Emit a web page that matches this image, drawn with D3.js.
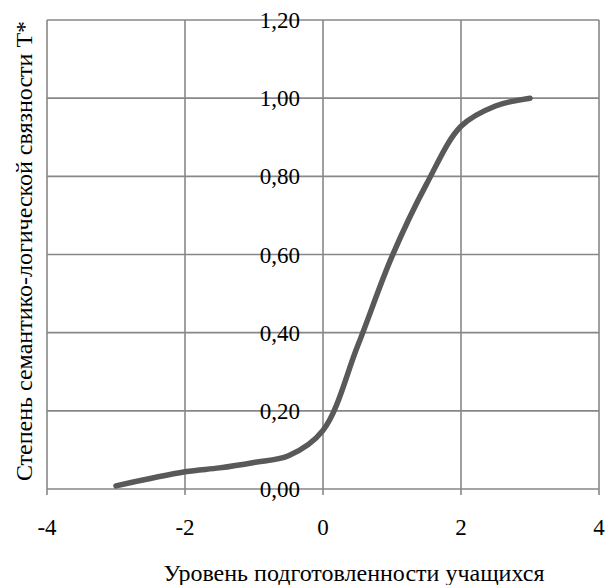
<!DOCTYPE html>
<html><head><meta charset="utf-8">
<script src="https://cdn.jsdelivr.net/npm/d3@7"></script>
<style>
html,body{margin:0;padding:0;background:#fff;}
svg{display:block;}
text{font-family:"Liberation Serif","Times New Roman",serif;fill:#000;}
</style></head>
<body>
<script>
// Readiness level of students vs. degree of semantic-logical connectedness
const levels = [-3, -2, -1.5, -1, -0.5, 0, 0.5, 1, 1.5, 2, 2.5, 3];
const connectedness = [0.008, 0.044, 0.054, 0.068, 0.085, 0.15, 0.365, 0.595, 0.78, 0.928, 0.98, 1.0];
const xTicks = [-4, -2, 0, 2, 4];
const yTicks = [0, 0.2, 0.4, 0.6, 0.8, 1.0, 1.2];
const xTitle = "Уровень подготовленности учащихся";
const yTitle = "Степень семантико-логической связности Т*";

const W = 605, H = 585;
const svg = d3.select("body").append("svg").attr("width", W).attr("height", H);

const x = d3.scaleLinear().domain([-4, 4]).range([47, 599]);
const y = d3.scaleLinear().domain([0, 1.2]).range([489, 20]);
const grid = "#878787";

// horizontal gridlines
svg.append("g").selectAll("line").data(yTicks).join("line")
  .attr("x1", x(-4)).attr("x2", x(4))
  .attr("y1", d => y(d)).attr("y2", d => y(d))
  .attr("stroke", grid).attr("stroke-width", 1.6);

// vertical gridlines with small ticks below the axis
svg.append("g").selectAll("line").data(xTicks).join("line")
  .attr("x1", d => x(d)).attr("x2", d => x(d))
  .attr("y1", y(1.2)).attr("y2", y(0) + 6)
  .attr("stroke", grid).attr("stroke-width", 1.6);

// y tick labels sit just left of the x = 0 axis
svg.append("g").selectAll("text").data(yTicks).join("text")
  .attr("x", x(0) - 23).attr("y", d => y(d))
  .attr("dy", "0.35em").attr("text-anchor", "end")
  .attr("font-size", 23)
  .text(d => d3.format(".2f")(d).replace(".", ","));

// x tick labels
svg.append("g").selectAll("text").data(xTicks).join("text")
  .attr("x", d => x(d)).attr("y", 535)
  .attr("text-anchor", "middle").attr("font-size", 23)
  .text(d => d);

// data curve
const pts = levels.map((v, i) => [v, connectedness[i]]);
svg.append("path").datum(pts)
  .attr("fill", "none").attr("stroke", "#595959").attr("stroke-width", 5.5)
  .attr("stroke-linecap", "round")
  .attr("d", d3.line().x(d => x(d[0])).y(d => y(d[1])).curve(d3.curveCatmullRom.alpha(0.5)));

// axis titles
svg.append("text").attr("x", 354).attr("y", 581)
  .attr("text-anchor", "middle").attr("font-size", 24).text(xTitle);
svg.append("text")
  .attr("transform", `translate(32,251) rotate(-90)`)
  .attr("text-anchor", "middle").attr("font-size", 24).text(yTitle);
</script>
</body></html>
